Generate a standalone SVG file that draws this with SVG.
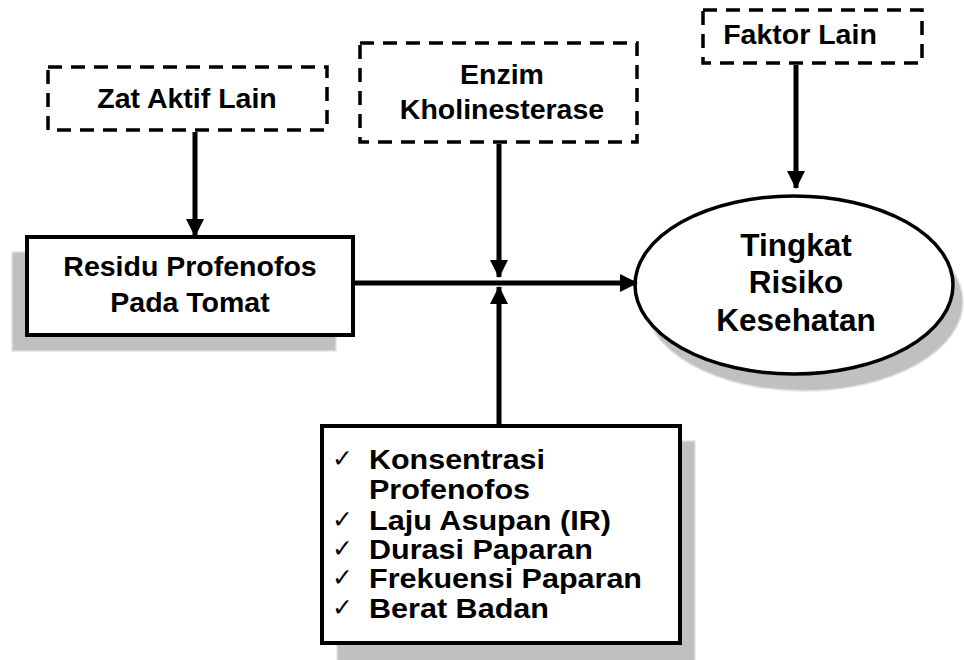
<svg xmlns="http://www.w3.org/2000/svg" width="964" height="660" viewBox="0 0 964 660">
  <style>
    .lbl { font-family: "Liberation Sans", Arial, sans-serif; font-weight: bold; font-size: 28.5px; fill: #000; }
    .big { font-size: 31.5px; }
    .item { font-size: 27px; }
    .chk { font-family: "DejaVu Sans", sans-serif; font-size: 25px; fill: #000; }
    .dash { fill: #fff; stroke: #000; stroke-width: 3.5; stroke-dasharray: 14 9; }
    .solid { fill: #fff; stroke: #000; stroke-width: 4; }
    .shadow { fill: #c0c0c0; stroke: #e2e2e2; stroke-width: 1.5; }
    .conn { stroke: #000; stroke-width: 5; fill: none; }
  </style>
  <defs>
    <marker id="arrow" markerUnits="userSpaceOnUse" markerWidth="18" markerHeight="18" refX="17" refY="9" orient="auto">
      <path d="M0,0 L18,9 L0,18 Z" fill="#000"/>
    </marker>
  </defs>
  <rect width="964" height="660" fill="#fff"/>

  <!-- influencing factors (dashed) -->
  <g id="zat-aktif-lain">
    <rect class="dash" x="48" y="67" width="279" height="63"/>
    <text class="lbl" x="187" y="108" text-anchor="middle">Zat Aktif Lain</text>
  </g>
  <g id="enzim-kholinesterase">
    <rect class="dash" x="360" y="43" width="277" height="99"/>
    <text class="lbl" x="502" y="84" text-anchor="middle">Enzim</text>
    <text class="lbl" x="502" y="119" text-anchor="middle">Kholinesterase</text>
  </g>
  <g id="faktor-lain">
    <rect class="dash" x="703" y="10" width="219" height="53"/>
    <text class="lbl" x="800" y="44" text-anchor="middle">Faktor Lain</text>
  </g>

  <!-- source node -->
  <g id="residu-profenofos">
    <rect class="shadow" x="12" y="252" width="324" height="99"/>
    <rect class="solid" x="27" y="237" width="326" height="98"/>
    <text class="lbl" x="190" y="276" text-anchor="middle">Residu Profenofos</text>
    <text class="lbl" x="190" y="312" text-anchor="middle">Pada Tomat</text>
  </g>

  <!-- outcome node -->
  <g id="tingkat-risiko">
    <ellipse class="shadow" cx="804" cy="302" rx="159" ry="89"/>
    <ellipse cx="794" cy="285" rx="159" ry="89" fill="#fff" stroke="#000" stroke-width="3.5"/>
    <text class="lbl big" x="796" y="256" text-anchor="middle">Tingkat</text>
    <text class="lbl big" x="796" y="293" text-anchor="middle">Risiko</text>
    <text class="lbl big" x="796" y="331" text-anchor="middle">Kesehatan</text>
  </g>

  <!-- exposure variables: checklist with widened bold type -->
  <g id="variabel-paparan">
    <rect class="shadow" x="337" y="441" width="358" height="230"/>
    <rect class="solid" x="322" y="426" width="358" height="217"/>
    <text class="chk" x="332" y="467">✓</text>
    <text class="lbl item" x="369" y="469" textLength="176" lengthAdjust="spacingAndGlyphs">Konsentrasi</text>
    <text class="lbl item" x="369" y="499" textLength="161" lengthAdjust="spacingAndGlyphs">Profenofos</text>
    <text class="chk" x="332" y="528">✓</text>
    <text class="lbl item" x="369" y="530" textLength="242" lengthAdjust="spacingAndGlyphs">Laju Asupan (IR)</text>
    <text class="chk" x="332" y="557">✓</text>
    <text class="lbl item" x="369" y="559" textLength="224" lengthAdjust="spacingAndGlyphs">Durasi Paparan</text>
    <text class="chk" x="332" y="586">✓</text>
    <text class="lbl item" x="369" y="588" textLength="273" lengthAdjust="spacingAndGlyphs">Frekuensi Paparan</text>
    <text class="chk" x="332" y="616">✓</text>
    <text class="lbl item" x="369" y="618" textLength="180" lengthAdjust="spacingAndGlyphs">Berat Badan</text>
  </g>

  <!-- connectors -->
  <g id="connectors">
    <line class="conn" x1="195" y1="132" x2="195" y2="236" marker-end="url(#arrow)"/>
    <line class="conn" x1="499" y1="144" x2="499" y2="277" marker-end="url(#arrow)"/>
    <line class="conn" x1="796" y1="65" x2="796" y2="188" marker-end="url(#arrow)"/>
    <line class="conn" x1="355" y1="283" x2="637" y2="283" marker-end="url(#arrow)"/>
    <line class="conn" x1="499" y1="424" x2="499" y2="287" marker-end="url(#arrow)"/>
  </g>
</svg>
